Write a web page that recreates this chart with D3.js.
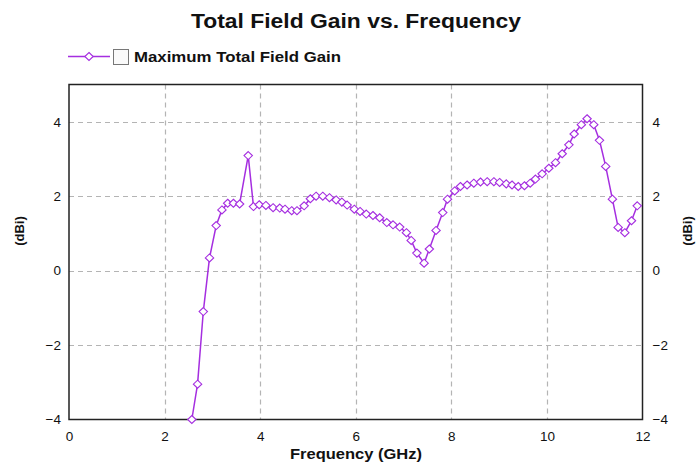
<!DOCTYPE html>
<html><head><meta charset="utf-8">
<script src="https://cdn.jsdelivr.net/npm/d3@7"></script>
<style>body{margin:0;background:#fff;} svg{display:block;font-family:"Liberation Sans",Arial,sans-serif;}</style>
</head><body>
<svg id="c" width="696" height="463"></svg>
<script>
const freq = [2.57,2.69,2.81,2.94,3.08,3.20,3.32,3.44,3.57,3.75,3.86,3.98,4.12,4.27,4.41,4.52,4.66,4.77,4.92,5.05,5.17,5.31,5.45,5.59,5.71,5.82,5.97,6.09,6.22,6.36,6.50,6.65,6.78,6.92,7.06,7.16,7.28,7.43,7.54,7.68,7.82,7.92,8.07,8.19,8.33,8.47,8.61,8.75,8.89,9.01,9.15,9.27,9.40,9.53,9.65,9.76,9.90,10.04,10.18,10.32,10.46,10.57,10.72,10.84,10.98,11.10,11.23,11.37,11.49,11.63,11.77,11.89];
const gain = [-4.0,-3.05,-1.10,0.34,1.21,1.63,1.81,1.81,1.79,3.09,1.72,1.77,1.75,1.69,1.68,1.65,1.61,1.61,1.74,1.93,2.00,2.00,1.96,1.90,1.84,1.76,1.65,1.59,1.52,1.48,1.42,1.29,1.23,1.17,1.02,0.81,0.47,0.20,0.58,1.08,1.56,1.92,2.14,2.26,2.30,2.35,2.38,2.39,2.39,2.37,2.33,2.30,2.26,2.28,2.35,2.46,2.60,2.75,2.90,3.14,3.38,3.67,3.92,4.08,3.92,3.50,2.80,1.92,1.16,1.02,1.34,1.74];
const xTicks = [0,2,4,6,8,10,12];
const yTicks = [-4,-2,0,2,4];
const title = "Total Field Gain vs. Frequency";
const seriesName = "Maximum Total Field Gain";
const xLabel = "Frequency (GHz)";
const yLabel = "(dBi)";

const svg = d3.select("#c");
const L=69, R=642.5, T=84.5, B=419.5;
const x = d3.scaleLinear().domain([0,12]).range([L,R]);
const y = d3.scaleLinear().domain([-4,5]).range([B,T]);
const col = "#a52ee0";

// grid
const g = svg.append("g");
g.selectAll(".vg").data(xTicks.filter(d=>d>0&&d<12)).enter().append("line")
  .attr("x1",d=>Math.round(x(d))+0.5).attr("x2",d=>Math.round(x(d))+0.5).attr("y1",T).attr("y2",B)
  .attr("stroke","#b4b4b4").attr("stroke-width",1.2).attr("stroke-dasharray","5,4");
g.selectAll(".hg").data(yTicks.filter(d=>d>-4)).enter().append("line")
  .attr("y1",d=>Math.round(y(d))+0.5).attr("y2",d=>Math.round(y(d))+0.5).attr("x1",L).attr("x2",R)
  .attr("stroke","#b4b4b4").attr("stroke-width",1.2).attr("stroke-dasharray","5,4");

// axes
const ax = svg.append("g").attr("transform",`translate(0,${B})`)
  .call(d3.axisBottom(x).tickValues(xTicks).tickSize(0).tickPadding(12).tickFormat(d3.format("d")));
const ayl = svg.append("g").attr("transform",`translate(${L},0)`)
  .call(d3.axisLeft(y).tickValues(yTicks).tickSize(0).tickPadding(8).tickFormat(d3.format("d")));
const ayr = svg.append("g").attr("transform",`translate(${R},0)`)
  .call(d3.axisRight(y).tickValues(yTicks).tickSize(0).tickPadding(10).tickFormat(d3.format("d")));
[ax,ayl,ayr].forEach(a=>{a.select(".domain").remove();a.selectAll("text").attr("font-size","13.5px").attr("fill","#111").attr("font-family","'Liberation Sans',Arial,sans-serif");});

// frame
svg.append("rect").attr("x",L).attr("y",T).attr("width",R-L).attr("height",B-T)
  .attr("fill","none").attr("stroke","#222").attr("stroke-width",1.5);

// line
svg.append("path").datum(freq.map((f,i)=>[f,gain[i]]))
  .attr("fill","none").attr("stroke",col).attr("stroke-width",1.5)
  .attr("d",d3.line().x(d=>x(d[0])).y(d=>y(d[1])));
const diamond = "M0,-4L4.2,0L0,4L-4.2,0Z";
svg.selectAll(".pt").data(freq.map((f,i)=>[f,gain[i]])).enter().append("path")
  .attr("d",diamond).attr("transform",d=>`translate(${x(d[0])},${y(d[1])})`)
  .attr("fill","#fff").attr("stroke",col).attr("stroke-width",1.1);

// title
svg.append("text").attr("x",356).attr("y",28).attr("text-anchor","middle")
  .attr("font-size","19.5px").attr("font-weight","bold").attr("fill","#111")
  .attr("textLength",330).attr("lengthAdjust","spacingAndGlyphs").text(title);

// legend
svg.append("line").attr("x1",68).attr("x2",110).attr("y1",56.5).attr("y2",56.5).attr("stroke",col).attr("stroke-width",1.5);
svg.append("path").attr("d",diamond).attr("transform","translate(89,56.5)").attr("fill","#fff").attr("stroke",col).attr("stroke-width",1.1);
svg.append("rect").attr("x",113.5).attr("y",49.5).attr("width",15).attr("height",15).attr("fill","#fafafa").attr("stroke","#777").attr("stroke-width",1);
svg.append("text").attr("x",134).attr("y",62).attr("font-size","14px").attr("font-weight","bold").attr("fill","#111")
  .attr("textLength",207).attr("lengthAdjust","spacingAndGlyphs").text(seriesName);

// axis titles
svg.append("text").attr("x",356).attr("y",459).attr("text-anchor","middle").attr("font-size","14px").attr("font-weight","bold").attr("fill","#111")
  .attr("textLength",132).attr("lengthAdjust","spacingAndGlyphs").text(xLabel);
svg.append("text").attr("transform","translate(24,231) rotate(-90)").attr("text-anchor","middle").attr("font-size","13px").attr("font-weight","bold").attr("fill","#111").text(yLabel);
svg.append("text").attr("transform","translate(692,231) rotate(-90)").attr("text-anchor","middle").attr("font-size","13px").attr("font-weight","bold").attr("fill","#111").text(yLabel);
</script>
</body></html>
